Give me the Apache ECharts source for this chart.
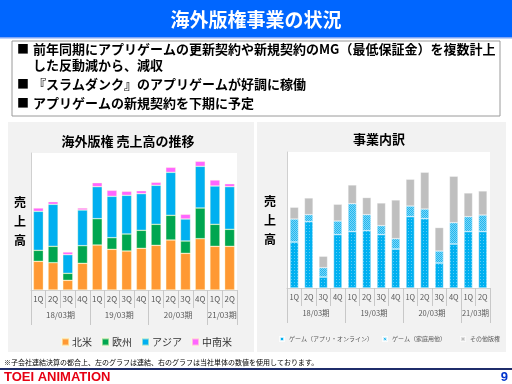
<!DOCTYPE html>
<html><head><meta charset="utf-8">
<script src="https://cdn.jsdelivr.net/npm/echarts@6/dist/echarts.min.js"></script>
<style>html,body{margin:0;padding:0;background:#fff}#c{width:512px;height:384px}</style>
</head><body><div id="c"></div>
<script>
// ---- data ----
const quarters = ['1Q','2Q','3Q','4Q','1Q','2Q','3Q','4Q','1Q','2Q','3Q','4Q','1Q','2Q'];
const fiscalYears = ['18/03期','19/03期','20/03期','21/03期'];
const fiscalYearSizes = [4,4,4,2];
// left: overseas licensing sales by region (relative units)
const northAmerica = [28.7,27.3,9.7,26.7,45.0,40.7,39.0,41.7,44.7,50.0,36.7,51.3,43.7,43.7];
const europe       = [11.0,16.4,7.0,17.6,26.3,11.6,17.0,18.0,21.0,24.7,12.3,30.7,22.0,17.0];
const asia         = [39.0,42.0,18.6,35.7,32.0,41.4,38.7,36.6,39.0,43.0,22.0,41.7,38.3,42.6];
const latinAmerica = [3.3,2.6,2.7,2.0,4.0,6.0,4.0,3.0,3.0,5.0,4.7,5.0,6.0,3.0];
const regionNames = ['北米','欧州','アジア','中南米'];
// right: business breakdown
const gameApp   = [46.0,66.4,11.0,53.4,56.4,57.4,53.4,39.0,71.4,69.4,25.0,44.0,56.4,56.4];
const gameHome  = [23.0,7.0,9.4,13.6,28.0,16.0,9.0,10.4,10.6,9.6,12.0,21.4,15.0,16.6];
const otherLic  = [11.7,16.6,11.3,16.7,18.6,17.0,22.6,38.6,26.7,36.7,23.4,46.3,23.6,24.0];
const bizNames = ['ゲーム（アプリ・オンライン）','ゲーム（家庭用他）','その他版権'];
const bullets = [
  '前年同期にアプリゲームの更新契約や新規契約のMG（最低保証金）を複数計上',
  'した反動減から、減収',
  '『スラムダンク』のアプリゲームが好調に稼働',
  'アプリゲームの新規契約を下期に予定'
];
const yName = '売上高';

// ---- build helpers ----
const JP = '"Noto Sans CJK JP"';
const total = fiscalYearSizes.reduce((a,b)=>a+b,0);
const halfPts = new Array(total*2+1).fill('');
const boundaries = [0];
let acc = 0;
fiscalYears.forEach((fy,i)=>{ halfPts[acc*2 + fiscalYearSizes[i]] = fy; acc += fiscalYearSizes[i]; boundaries.push(acc*2); });

function catAxis(gi, fs){
  return [{
    type:'category', gridIndex:gi, data:quarters, boundaryGap:true,
    axisLine:{lineStyle:{color:'#d0d0d0'}},
    axisTick:{show:true, length:18, interval:0, lineStyle:{color:'#c8c8c8'}},
    axisLabel:{interval:0, fontSize:fs, color:'#595959', margin:5, fontFamily:JP}
  },{
    type:'category', gridIndex:gi, data:halfPts, boundaryGap:false, position:'bottom',
    axisLine:{show:false},
    axisTick:{show:true, length:35, interval:(i)=>boundaries.indexOf(i)>=0, lineStyle:{color:'#c8c8c8'}},
    axisLabel:{interval:(i,v)=>v!=='', fontSize:fs, color:'#595959', margin:21, fontFamily:JP}
  }];
}
function valAxis(gi, max, gap, pad){
  return {type:'value', gridIndex:gi, min:0, max:max, splitLine:{show:false},
    axisLabel:{show:false}, axisTick:{show:false},
    axisLine:{show:true, lineStyle:{color:'#d0d0d0'}},
    name: yName.split('').join('\n'), nameLocation:'middle', nameRotate:0, nameGap:gap,
    nameTextStyle:{fontFamily:JP, fontWeight:'bold', fontSize:12, color:'#000', lineHeight:19, padding:pad}};
}
const regionColors = ['#FF9933','#00A650','#00B0F0','#FF66FF'];
const leftSeries = [northAmerica, europe, asia, latinAmerica].map((d,i)=>({
  name:regionNames[i], type:'bar', stack:'l', xAxisIndex:0, yAxisIndex:0, barWidth:10, data:d,
  itemStyle:{color:regionColors[i], borderColor:'rgba(255,255,210,0.55)', borderWidth:0.6}
}));
const bizStyles = [
  {color:'#00B0F0', decal:{symbol:'rect', symbolSize:1, color:'rgba(255,255,255,0.35)', dashArrayX:[1,2], dashArrayY:[1,2]}},
  {color:'#22B8F0', decal:{symbol:'rect', symbolSize:1, color:'rgba(255,255,255,0.4)', dashArrayX:[[1,1],[0,1,1,0]], dashArrayY:[1,0]}},
  {color:'#BFBFBF'}
];
const rightSeries = [gameApp, gameHome, otherLic].map((d,i)=>({
  name:bizNames[i], type:'bar', stack:'r', xAxisIndex:2, yAxisIndex:1, barWidth:8.5, data:d,
  itemStyle:Object.assign({borderColor:'rgba(255,255,255,0.5)', borderWidth:0.5}, bizStyles[i])
}));

const gtext = (t,x,y,font,fill,align)=>({type:'text', x:x, y:y, silent:true,
  style:{text:t, font:font, fill:fill||'#000', textAlign:align||'left', textVerticalAlign:'middle'}});

const graphics = [
  {type:'rect', shape:{x:0,y:0,width:512,height:37}, style:{fill:'#0066FF'}},
  {type:'rect', shape:{x:0,y:37,width:512,height:1.5}, style:{fill:'#7FA6F5'}},
  gtext('海外版権事業の状況',256,20,'bold 19px '+JP,'#fff','center'),
  {type:'rect', shape:{x:12,y:41,width:488,height:75}, style:{fill:'#fff', stroke:'#9a9a9a', lineWidth:1}},
  gtext('■',17,49,'bold 12px '+JP), gtext(bullets[0],33,49,'bold 13px '+JP),
  gtext(bullets[1],33,65,'bold 13px '+JP),
  gtext('■',17,84,'bold 12px '+JP), gtext(bullets[2],33,84,'bold 13px '+JP),
  gtext('■',17,103,'bold 12px '+JP), gtext(bullets[3],33,103,'bold 13px '+JP),
  {type:'rect', z:-10, shape:{x:8,y:122,width:246,height:230}, style:{fill:'#F2F2F2'}},
  {type:'rect', z:-10, shape:{x:257,y:122,width:249,height:230}, style:{fill:'#F2F2F2'}},
  gtext('海外版権 売上高の推移',128,141,'bold 13px '+JP,'#000','center'),
  gtext('事業内訳',379,139,'bold 13px '+JP,'#000','center'),
  gtext('※子会社連結決算の都合上、左のグラフは連結、右のグラフは当社単体の数値を使用しております。',4,362,'7px '+JP,'#000'),
  {type:'rect', shape:{x:0,y:368,width:512,height:2}, style:{fill:'#1F2D6B'}},
  gtext('TOEI ANIMATION',4,377,'bold 13px "Liberation Sans"','#E60012'),
  gtext('9',508,377,'bold 13px "Liberation Sans"','#0033CC','right')
];

const bizLegendLeft = [279, 382, 460];
const bizLegends = bizNames.map((n,i)=>({data:[n], left:bizLegendLeft[i], top:336, padding:0,
  itemWidth:4, itemHeight:4, icon:'rect', textStyle:{fontFamily:JP, fontSize:6, color:'#595959'}}));

const chart = echarts.init(document.getElementById('c'), null, {renderer:'canvas'});
chart.setOption({
  animation:false,
  backgroundColor:'#fff',
  grid:[
    {left:31, right:275, top:153, bottom:94, show:true, backgroundColor:'#fff', borderWidth:0},
    {left:287, right:22, top:152, bottom:96, show:true, backgroundColor:'#fff', borderWidth:0}
  ],
  xAxis:[...catAxis(0,8), ...catAxis(1,7.5)],
  yAxis:[valAxis(0,137,5,[0,0,0,0]), valAxis(1,136,11,[0,0,14,0])],
  legend:[
    {data:regionNames, left:56, top:332, itemWidth:7, itemHeight:7, itemGap:9, icon:'rect',
      textStyle:{fontFamily:JP, fontSize:10, color:'#333', padding:[0,0,0,-2]}},
    ...bizLegends
  ],
  series:[...leftSeries, ...rightSeries],
  graphic:graphics
});
</script></body></html>
